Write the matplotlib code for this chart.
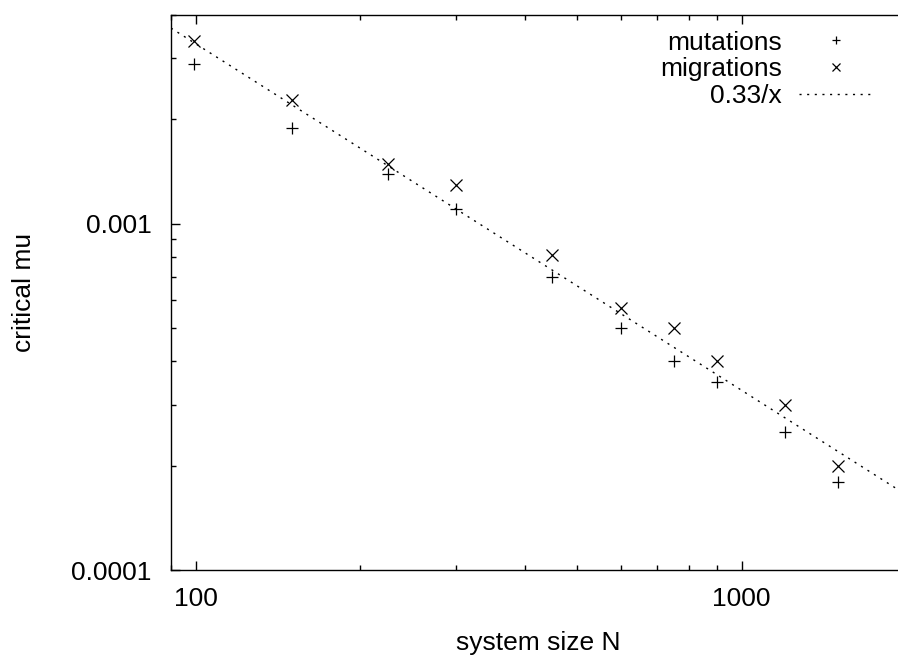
import matplotlib
matplotlib.use("Agg")
import matplotlib.pyplot as plt
import numpy as np

plt.rcParams['font.family'] = ['Liberation Sans', 'DejaVu Sans']

# system sizes and critical mutation / migration rates
sizes = [99, 150, 225, 300, 450, 600, 750, 900, 1200, 1500]
mutations = [2.89e-3, 1.89e-3, 1.39e-3, 1.10e-3, 7.0e-4, 4.98e-4, 4.0e-4, 3.5e-4, 2.5e-4, 1.79e-4]
migrations = [3.37e-3, 2.28e-3, 1.49e-3, 1.29e-3, 8.14e-4, 5.69e-4, 4.98e-4, 4.0e-4, 3.0e-4, 2.0e-4]
fit_coef = 0.33

fig = plt.figure(figsize=(8.98, 6.58), dpi=100)
ax = fig.add_axes([171 / 898, 88 / 658, 735 / 898, 555 / 658])

# fit line
xs = np.logspace(np.log10(90), np.log10(2000), 200)
ax.plot(xs, fit_coef / xs, color='black', linewidth=1.0,
        linestyle=(0, (1.5, 4)), label='0.33/x')
ax.plot(sizes, mutations, linestyle='None', marker='+', color='black',
        markersize=9, markeredgewidth=0.9, label='mutations')
ax.plot(sizes, migrations, linestyle='None', marker='x', color='black',
        markersize=8, markeredgewidth=0.9, label='migrations')

ax.set_xscale('log')
ax.set_yscale('log')
ax.set_xlim(90, 2000)
ax.set_ylim(1e-4, 4e-3)

ax.set_xticks([100, 1000])
ax.set_xticklabels(['100', '1000'])
ax.set_yticks([1e-4, 1e-3])
ax.set_yticklabels(['0.0001', '0.001'])

ax.tick_params(which='both', direction='in', top=True, right=False, labelsize=19)
ax.tick_params(which='major', length=6.5, width=1.0)
ax.tick_params(which='minor', length=3.6, width=1.0)
ax.tick_params(axis='x', pad=12)
ax.tick_params(axis='y', pad=14)
for s in ax.spines.values():
    s.set_linewidth(1.0)

ax.set_xlabel('system size N', fontsize=19)
ax.set_ylabel('critical mu', fontsize=19)
ax.xaxis.set_label_coords(0.5, -0.110)
ax.yaxis.set_label_coords(-0.184, 0.5)

h, l = ax.get_legend_handles_labels()
order = [1, 2, 0]
leg = ax.legend([h[i] for i in order], [l[i] for i in order],
                loc='upper right', bbox_to_anchor=(0.955, 0.972),
                frameon=False, markerfirst=False, fontsize=19,
                handlelength=2.8, handletextpad=0.65, labelspacing=0.11,
                borderpad=0, borderaxespad=0, markerscale=0.7)

fig.savefig('out.png', dpi=100)
